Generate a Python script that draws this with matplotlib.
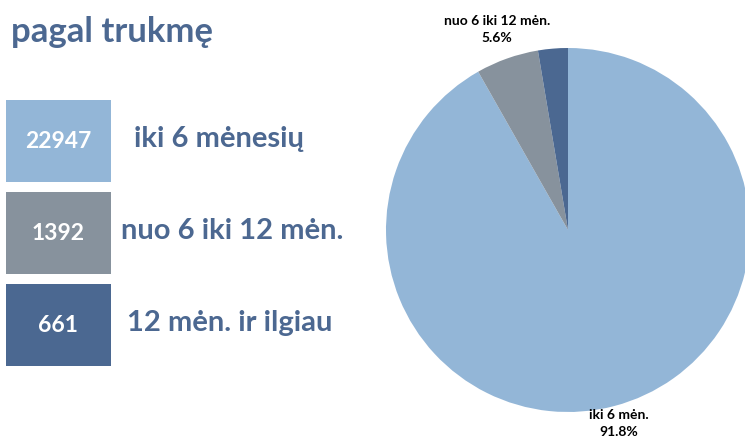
import numpy as np
import matplotlib
matplotlib.use("Agg")
import matplotlib.pyplot as plt
from matplotlib.patches import Rectangle

TITLE = "pagal trukmę"
COUNTS = [22947, 1392, 661]
BOX_LABELS = ["iki 6 mėnesių", "nuo 6 iki 12 mėn.", "12 mėn. ir ilgiau"]
PIE_LABELS = ["iki 6 mėn.", "nuo 6 iki 12 mėn.", ""]
COLORS = ["#93b6d7", "#87929d", "#4b6891"]
TEXT_COLOR = "#4c6891"

plt.rcParams["font.family"] = ["Lato", "DejaVu Sans"]

fig = plt.figure(figsize=(7.45, 4.44), dpi=100)

# left part: title + number boxes, drawn in pixel-like coordinates
lax = fig.add_axes([0, 0, 1, 1])
lax.set_xlim(0, 745); lax.set_ylim(444, 0); lax.axis("off")
lax.text(11, 32, TITLE, fontsize=25, fontweight="bold", color=TEXT_COLOR,
         va="center", ha="left")
box_top = [100, 192, 284]
label_x = [134, 121, 127]
for n, lab, col, y0, lx in zip(COUNTS, BOX_LABELS, COLORS, box_top, label_x):
    lax.add_patch(Rectangle((6, y0), 105, 82, color=col, lw=0))
    lax.text(58, y0 + 41, str(n), fontsize=16.5, fontweight="bold",
             color="white", ha="center", va="center")
    lax.text(lx, y0 + 39, lab, fontsize=21, fontweight="bold",
             color=TEXT_COLOR, ha="left", va="center")

# pie, partly cut off by the figure edge like the original
total = sum(COUNTS)
labels = [f"{l}\n{100 * v / total:.1f}%" if l else "" for l, v in zip(PIE_LABELS, COUNTS)]
pax = fig.add_axes([386 / 745, 32 / 444, 364 / 745, 364 / 444])
wedges, texts = pax.pie(COUNTS, colors=COLORS, startangle=90, counterclock=False,
                        labels=labels,
                        textprops=dict(fontsize=10, fontweight="bold", color="black"),
                        wedgeprops=dict(linewidth=0))
label_dist = [1.10, 1.17, 1.1]
for w, t, r in zip(wedges, texts, label_dist):
    ang = np.deg2rad((w.theta1 + w.theta2) / 2)
    t.set_position((r * np.cos(ang), r * np.sin(ang)))
    t.set_ha("center"); t.set_va("center"); t.set_linespacing(1.55)
    t.set_clip_on(False)
    w.set_clip_on(False)
pax.set_xlim(-1, 1); pax.set_ylim(-1, 1)
pax.set_aspect("equal")

fig.savefig("out.png", dpi=100)
